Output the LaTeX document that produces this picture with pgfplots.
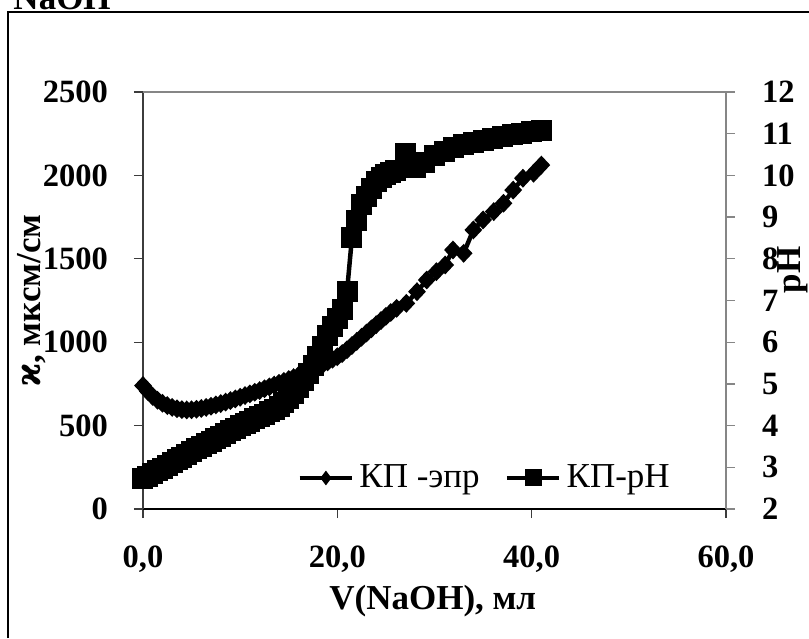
\documentclass[border=0pt]{standalone}
\usepackage{pgfplots}
\usepackage{pgfplotstable}
\pgfplotsset{compat=1.18}
\usepackage{fontspec}
\setmainfont{Liberation Serif}
\newfontfamily\symfont{DejaVu Serif}
\definecolor{framegray}{RGB}{134,134,134}
\definecolor{axdark}{RGB}{60,60,60}
\newcommand\lblfont{\fontsize{14}{16}\selectfont\bfseries}
\newcommand\tickfont{\fontsize{13}{15}\selectfont\bfseries}

% conductivity, mkS/cm, vs. added NaOH volume, ml
\pgfplotstableread{
v k
0 740
0.5 705
1 675
1.5 652
2 634
2.5 620
3 609
3.5 601
4 596
4.5 594
5 595
5.5 598
6 603
6.5 609
7 616
7.5 624
8 632
8.5 641
9 650
9.5 660
10 670
10.5 680
11 690
11.5 700
12 710
12.5 721
13 732
13.5 743
14 754
14.5 765
15 776
15.5 788
16 800
16.5 812
17 825
17.5 838
18 852
18.5 867
19 882
19.5 898
20 913
20.5 932
21 955
21.5 980
22 1005
22.5 1030
23 1055
23.5 1080
24 1105
24.5 1130
25 1155
25.5 1178
26.1 1203
27.1 1233
28.2 1303
29.2 1373
30.2 1423
31.1 1463
31.9 1553
33.0 1533
34.0 1673
35.0 1733
36.1 1783
37.1 1833
38.1 1912
39.1 1983
40.2 2013
41.0 2062
}\condtable

% pH vs. added NaOH volume, ml
\pgfplotstableread{
v ph
0 2.72
0.5 2.79
1 2.85
1.5 2.92
2 2.98
2.5 3.05
3 3.11
3.5 3.18
4 3.24
4.5 3.31
5 3.37
5.5 3.44
6 3.50
6.5 3.56
7 3.63
7.5 3.69
8 3.75
8.5 3.82
9 3.88
9.5 3.94
10 4.00
10.5 4.05
11 4.11
11.5 4.16
12 4.22
12.5 4.27
13 4.33
13.5 4.39
14 4.45
14.5 4.55
15 4.65
15.5 4.78
16 4.92
16.5 5.08
17 5.25
17.5 5.45
18 5.65
18.5 5.90
19 6.15
19.5 6.38
20 6.58
20.5 6.78
21.0 7.22
21.5 8.50
22.0 8.93
22.5 9.30
23.0 9.50
23.5 9.68
24.0 9.85
24.5 9.95
25.0 10.03
25.5 10.08
26.0 10.12
27.0 10.52
28.0 10.20
29.0 10.32
30.0 10.47
31.0 10.58
32.0 10.66
33.0 10.73
34.0 10.79
35.0 10.84
36.0 10.89
37.0 10.93
38.0 10.97
39.0 11.01
40.0 11.05
41.0 11.08
}\phtable

\pgfplotsset{
  twin/.style={
    at={(0pt,0pt)}, anchor=south west,
    scale only axis, width=233.2pt, height=166.8pt,
    xmin=0, xmax=60, clip=false,
    tick align=outside, major tick length=3.6pt,
    ticklabel style={font=\tickfont},
    /pgf/number format/assume math mode=true,
    /pgf/number format/1000 sep={},
  },
  kstyle/.style={black, line width=1.8pt, mark=diamond*, mark size=3.2pt,
    mark options={solid, line width=0.8pt, xscale=1.25}},
  phstyle/.style={black, line width=1.8pt, mark=square*, mark size=3.8pt,
    mark options={solid, line width=0.8pt}},
  klegend/.style={black, line width=1.8pt, mark=diamond*, mark size=2.3pt,
    mark options={solid, line width=0.8pt}},
  phlegend/.style={black, line width=1.8pt, mark=square*, mark size=3pt,
    mark options={solid, line width=0.8pt}},
}

\begin{document}
\begin{tikzpicture}
\useasboundingbox (-57.2pt,-51.6pt) rectangle (266.4pt,203.6pt);
% sheet border and the heading above it
\draw[black, line width=0.5pt] (-54pt,-51.6pt) -- (-54pt,198.8pt) -- (266.4pt,198.8pt);
\node[anchor=base west, inner sep=0pt] at (-52pt,199.6pt) {\lblfont NaOH};

\begin{axis}[
  twin,
  ymin=0, ymax=2500,
  axis x line*=bottom, axis y line*=left,
  x axis line style={black, line width=0.8pt},
  y axis line style={axdark, line width=0.6pt},
  tick style={axdark, line width=0.5pt},
  xtick={0,20,40,60}, ytick={0,500,...,2500},
  xticklabel style={yshift=-7.5pt, /pgf/number format/.cd, fixed, fixed zerofill, precision=1, use comma},
  yticklabel={\pgfmathprintnumber{\tick}\kern6.9pt},
  every axis x label/.style={at={(axis description cs:0.497,-0.221)}, anchor=center, font=\lblfont},
  every axis y label/.style={at={(axis description cs:-0.191,0.5)}, anchor=center, rotate=90, font=\lblfont},
  xlabel={V(NaOH), мл},
  ylabel={{\symfont ϰ}, мксм/см},
]
\draw[framegray, line width=0.6pt] (rel axis cs:0,1) -- (rel axis cs:1,1) -- (rel axis cs:1,0);
\addplot[kstyle] table[x=v, y=k] {\condtable};
\end{axis}

\begin{axis}[
  twin,
  ymin=2, ymax=12,
  axis x line=none, axis y line*=right,
  y axis line style={framegray, line width=0.6pt},
  ytick style={framegray, line width=0.5pt},
  ytick={2,3,...,12},
  yticklabel={\kern7.3pt\pgfmathprintnumber{\tick}},
  every axis y label/.style={at={(axis description cs:1.115,0.573)}, anchor=center, rotate=90, font=\lblfont},
  ylabel={pH},
  legend columns=2,
  legend style={draw=none, fill=none, at={(0.264,0.0744)}, anchor=west,
    inner sep=0pt, font=\fontsize{14}{16}\selectfont,
    /tikz/every even column/.append style={column sep=8pt}},
  legend image code/.code={\draw[mark repeat=2, mark phase=2] plot coordinates {(0pt,0pt) (10.5pt,0pt) (21pt,0pt)};},
]
\addlegendimage{klegend}
\addlegendentry{КП -эпр}
\addplot[phstyle, forget plot] table[x=v, y=ph] {\phtable};
\addlegendimage{phlegend}
\addlegendentry{КП-pH}
\end{axis}
\end{tikzpicture}
\end{document}
